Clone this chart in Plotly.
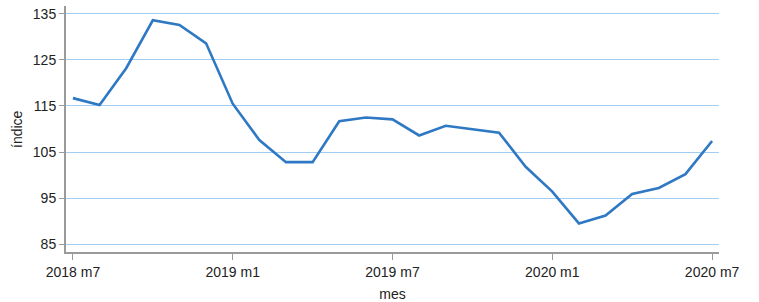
import plotly.graph_objects as go

months = ["2018 m7", "2018 m8", "2018 m9", "2018 m10", "2018 m11", "2018 m12",
          "2019 m1", "2019 m2", "2019 m3", "2019 m4", "2019 m5", "2019 m6",
          "2019 m7", "2019 m8", "2019 m9", "2019 m10", "2019 m11", "2019 m12",
          "2020 m1", "2020 m2", "2020 m3", "2020 m4", "2020 m5", "2020 m6",
          "2020 m7"]
indice = [116.7, 115.2, 123.2, 133.6, 132.6, 128.6,
          115.5, 107.6, 102.8, 102.8, 111.7, 112.5,
          112.1, 108.6, 110.7, 110.0, 109.2, 101.8,
          96.4, 89.5, 91.2, 95.9, 97.2, 100.2,
          107.4]
x_ticks = ["2018 m7", "2019 m1", "2019 m7", "2020 m1", "2020 m7"]
y_ticks = [85, 95, 105, 115, 125, 135]

font = "Liberation Sans, Arial, sans-serif"

fig = go.Figure()
fig.add_trace(go.Scatter(x=months, y=indice, mode="lines",
                         line=dict(color="#2f78c4", width=2.6),
                         showlegend=False))

fig.update_layout(
    width=759, height=302,
    margin=dict(l=66, r=40, t=6, b=50),
    paper_bgcolor="white", plot_bgcolor="white",
    font=dict(family=font, size=14, color="#222222"),
    xaxis=dict(
        type="category", categoryorder="array", categoryarray=months,
        range=[-0.26, 24.26], automargin=False,
        tickmode="array", tickvals=x_ticks, ticktext=x_ticks,
        showgrid=False, zeroline=False,
        showline=True, linecolor="#9a9a9a", linewidth=2,
        ticks="outside", ticklen=6, tickcolor="#9a9a9a", tickwidth=1,
        title=dict(text="mes", font=dict(size=14)),
    ),
    yaxis=dict(
        range=[83.3, 136.7], automargin=False,
        tickmode="array", tickvals=y_ticks,
        showgrid=True, gridcolor="#a2cdf2", gridwidth=1.2,
        zeroline=False,
        showline=True, linecolor="#9a9a9a", linewidth=2,
        ticks="outside", ticklen=5, tickcolor="#9a9a9a", tickwidth=1,
    ),
    annotations=[dict(
        text="índice", xref="paper", yref="paper",
        x=(17 - 66) / 653, y=0.5, xanchor="center", yanchor="middle",
        textangle=-90, showarrow=False, font=dict(size=14),
    )],
)

fig.write_html(
    "out.html",
    config={"displayModeBar": False},
    post_script="document.body.style.margin='0';document.body.style.overflow='hidden';",
)
